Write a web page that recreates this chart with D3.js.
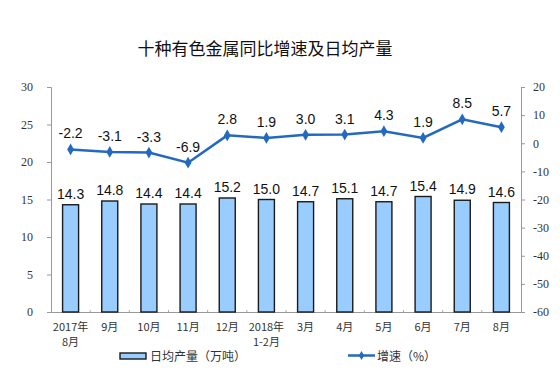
<!DOCTYPE html>
<html>
<head>
<meta charset="utf-8">
<script src="https://cdn.jsdelivr.net/npm/d3@7"></script>
<style>
  body { margin: 0; background: #fff; }
  svg { display: block; }
</style>
</head>
<body>
<svg id="chart" width="560" height="388"></svg>
<script>
// categories (two-line labels)
const months = [
  ["2017年", "8月"], ["9月"], ["10月"], ["11月"], ["12月"], ["2018年", "1-2月"],
  ["3月"], ["4月"], ["5月"], ["6月"], ["7月"], ["8月"]
];
// daily output (10k tonnes)
const output = [14.3, 14.8, 14.4, 14.4, 15.2, 15.0, 14.7, 15.1, 14.7, 15.4, 14.9, 14.6];
// year-on-year growth (%)
const growth = [-2.2, -3.1, -3.3, -6.9, 2.8, 1.9, 3.0, 3.1, 4.3, 1.9, 8.5, 5.7];
const leftTicks = [0, 5, 10, 15, 20, 25, 30];
const rightTicks = [-60, -50, -40, -30, -20, -10, 0, 10, 20];

const svg = d3.select("#chart");
const margin = { top: 87, right: 39, bottom: 76, left: 51 };
const width = 560 - margin.left - margin.right;
const height = 388 - margin.top - margin.bottom;

const lineColor = "#2469c0";
const cjk = "'Noto Sans CJK SC', 'Noto Sans', sans-serif";

svg.append("text")
  .attr("x", 265)
  .attr("y", 55)
  .attr("text-anchor", "middle")
  .style("font-family", cjk)
  .style("font-size", "17px")
  .style("fill", "#111")
  .text("十种有色金属同比增速及日均产量");

const g = svg.append("g")
  .attr("transform", "translate(" + margin.left + "," + margin.top + ")");

const x = d3.scaleBand()
  .domain(d3.range(months.length))
  .range([0, width]);

const yL = d3.scaleLinear().domain([0, 30]).range([height, 0]);
const yR = d3.scaleLinear().domain([-60, 20]).range([height, 0]);

// left axis
const axL = g.append("g")
  .call(d3.axisLeft(yL).tickValues(leftTicks).tickSize(4).tickPadding(14));
axL.select(".domain").attr("stroke", "#999");
axL.selectAll(".tick line").attr("stroke", "#999");
axL.selectAll("text")
  .style("font-family", "'Liberation Serif', 'DejaVu Serif', serif")
  .style("font-size", "12px")
  .style("fill", "#333");

// right axis (plain hyphen for negatives, like the original)
const axR = g.append("g")
  .attr("transform", "translate(" + width + ",0)")
  .call(d3.axisRight(yR).tickValues(rightTicks).tickSize(4).tickPadding(8)
    .tickFormat(d => String(d)));
axR.select(".domain").attr("stroke", "#999");
axR.selectAll(".tick line").attr("stroke", "#999");
axR.selectAll("text")
  .style("font-family", "'Liberation Serif', 'DejaVu Serif', serif")
  .style("font-size", "12px")
  .style("fill", "#333");

// bottom axis
const axB = g.append("g")
  .attr("transform", "translate(0," + height + ")")
  .call(d3.axisBottom(x).tickSize(0).tickFormat(""));
axB.select(".domain").attr("stroke", "#999");
// small tick marks between categories
g.append("g")
  .selectAll("line")
  .data(d3.range(1, months.length))
  .join("line")
  .attr("x1", i => x(i))
  .attr("x2", i => x(i))
  .attr("y1", height)
  .attr("y2", height - 2)
  .attr("stroke", "#aaa");

// category labels
const lab = g.append("g")
  .selectAll("text")
  .data(months)
  .join("text")
  .attr("x", (d, i) => x(i) + x.bandwidth() / 2)
  .attr("y", height + 19)
  .attr("text-anchor", "middle")
  .style("font-family", cjk)
  .style("font-size", "11px")
  .style("fill", "#333");
lab.selectAll("tspan")
  .data(d => d)
  .join("tspan")
  .attr("x", function() { return this.parentNode.getAttribute("x"); })
  .attr("dy", (d, i) => i === 0 ? 0 : 15)
  .text(d => d);

// bars
const barW = 16;
g.append("g")
  .selectAll("rect")
  .data(output)
  .join("rect")
  .attr("x", (d, i) => x(i) + x.bandwidth() / 2 - barW / 2)
  .attr("y", d => yL(d))
  .attr("width", barW)
  .attr("height", d => height - yL(d))
  .attr("fill", "#99ccff")
  .attr("stroke", "#1a1a1a")
  .attr("stroke-width", 1.4);

g.append("g")
  .selectAll("text")
  .data(output)
  .join("text")
  .attr("x", (d, i) => x(i) + x.bandwidth() / 2)
  .attr("y", d => yL(d) - 6)
  .attr("text-anchor", "middle")
  .style("font-family", "'Liberation Sans', Arial, sans-serif")
  .style("font-size", "14px")
  .style("fill", "#111")
  .text(d => d.toFixed(1));

// growth line
const line = d3.line()
  .x((d, i) => x(i) + x.bandwidth() / 2)
  .y(d => yR(d));

g.append("path")
  .datum(growth)
  .attr("d", line)
  .attr("fill", "none")
  .attr("stroke", lineColor)
  .attr("stroke-width", 2.5);

const diamond = d3.symbol().type(d3.symbolDiamond).size(40);
g.append("g")
  .selectAll("path")
  .data(growth)
  .join("path")
  .attr("d", diamond)
  .attr("transform", (d, i) => "translate(" + (x(i) + x.bandwidth() / 2) + "," + yR(d) + ")")
  .attr("fill", lineColor);

g.append("g")
  .selectAll("text")
  .data(growth)
  .join("text")
  .attr("x", (d, i) => x(i) + x.bandwidth() / 2)
  .attr("y", d => yR(d) - 11)
  .attr("text-anchor", "middle")
  .style("font-family", "'Liberation Sans', Arial, sans-serif")
  .style("font-size", "14px")
  .style("fill", "#111")
  .text(d => d.toFixed(1));

// legend
const leg = svg.append("g");
leg.append("rect")
  .attr("x", 120).attr("y", 353)
  .attr("width", 26).attr("height", 6)
  .attr("fill", "#99ccff")
  .attr("stroke", "#1a1a1a")
  .attr("stroke-width", 1.4);
leg.append("text")
  .attr("x", 150).attr("y", 361)
  .style("font-family", cjk)
  .style("font-size", "12px")
  .style("fill", "#333")
  .text("日均产量（万吨）");

leg.append("line")
  .attr("x1", 348).attr("x2", 375)
  .attr("y1", 355.5).attr("y2", 355.5)
  .attr("stroke", lineColor)
  .attr("stroke-width", 2.5);
leg.append("path")
  .attr("d", d3.symbol().type(d3.symbolDiamond).size(24))
  .attr("transform", "translate(361.5,355.5)")
  .attr("fill", lineColor);
leg.append("text")
  .attr("x", 377).attr("y", 361)
  .style("font-family", cjk)
  .style("font-size", "12px")
  .style("fill", "#333")
  .text("增速（%）");
</script>
</body>
</html>
